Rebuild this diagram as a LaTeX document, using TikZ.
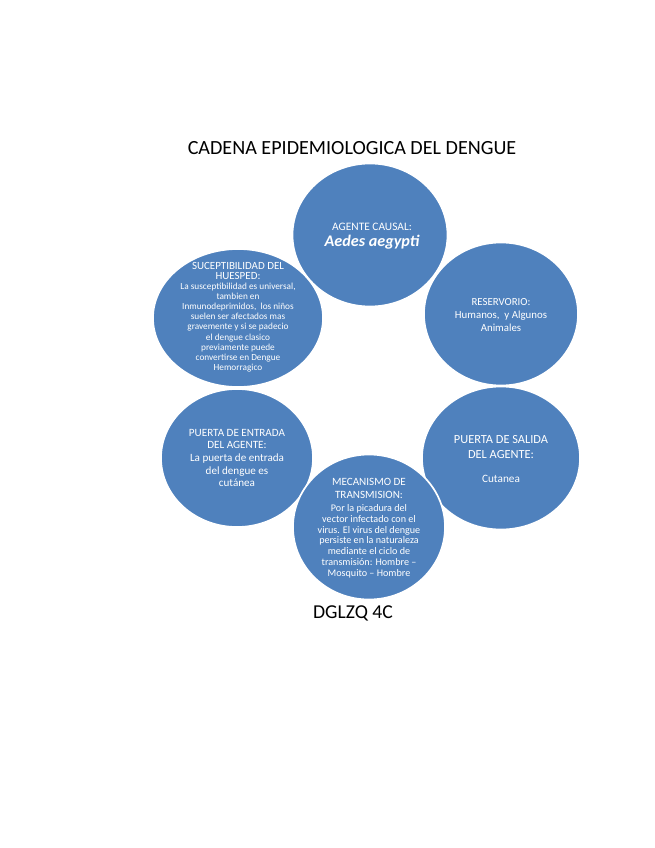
\documentclass[tikz,border=0pt]{standalone}
\usepackage{fontspec}
\setmainfont{Carlito}
\usetikzlibrary{shapes.geometric}
\definecolor{circblue}{HTML}{4F81BD}

\begin{document}
\begin{tikzpicture}[x=0.025cm, y=-0.025cm,
    bubble/.style={ellipse, fill=circblue, draw=white, line width=1.2pt, inner sep=0pt},
    txt/.style={text=white, align=center, inner sep=0pt}]

        \useasboundingbox[fill=white] (0,0) rectangle (655,848);

        \def\headfont{\fontsize{7.8}{8.4}\selectfont}

        \node[font=\fontsize{14.3}{17}\selectfont] (titulo) at (352,148) {CADENA EPIDEMIOLOGICA DEL DENGUE};

        \node[bubble, minimum width=4.25cm, minimum height=3.45cm] (huesped) at (238,318) {};
        \node[bubble, minimum width=3.8cm, minimum height=3.45cm] (entrada) at (237,458) {};
        \node[bubble, minimum width=3.95cm, minimum height=3.575cm] (salida) at (501,458) {};
        \node[bubble, minimum width=3.85cm, minimum height=3.575cm] (reservorio) at (501,314) {};
        \node[bubble, minimum width=3.875cm, minimum height=3.575cm] (agente) at (370,235) {};
        \node[bubble, minimum width=3.8cm, minimum height=3.625cm] (mecanismo) at (369,527) {};

        \node[txt, font=\fontsize{8.1}{11}\selectfont] (agentetxt) at (372,236) {AGENTE CAUSAL:\\
            \fontsize{11.5}{12}\selectfont\bfseries\itshape Aedes aegypti};

        \node[txt, font=\fontsize{7.7}{9.2}\selectfont] (reservoriotxt) at (501,315) {RESERVORIO:\\
            Humanos,\ \ y Algunos\\ Animales};

        \node[txt, font=\fontsize{6.6}{7.2}\selectfont] (huespedtxt) at (238,317) {\headfont SUCEPTIBILIDAD DEL\\
            \headfont HUESPED:\\
            La susceptibilidad es universal,\\ tambien en\\
            Inmunodeprimidos,\ \ los niños\\ suelen ser afectados mas\\
            gravemente y si se padecio\\ el dengue clasico\\ previamente puede\\
            convertirse en Dengue\\ Hemorragico};

        \node[txt, font=\fontsize{7.9}{9}\selectfont] (entradatxt) at (entrada) {PUERTA DE ENTRADA\\
            DEL AGENTE:\\ La puerta de entrada\\ del dengue es\\ cutánea};

        \node[txt, font=\fontsize{8}{10.6}\selectfont] (salidatxt) at (501,459) {\fontsize{8.8}{10.6}\selectfont PUERTA DE SALIDA\\
            \fontsize{8.8}{10.6}\selectfont DEL AGENTE:\\[6pt] Cutanea};

        \node[txt, font=\fontsize{7.2}{7.7}\selectfont] (mecanismotxt) at (369,528) {\fontsize{7.9}{7.7}\selectfont MECANISMO DE\\[1.8pt]
            \fontsize{7.9}{7.7}\selectfont TRANSMISION:\\[1.5pt]
            Por la picadura del\\ vector infectado con el\\
            virus. El virus del dengue\\ persiste en la naturaleza\\
            mediante el ciclo de\\ transmisión: Hombre --\\ Mosquito -- Hombre};

        \node[font=\fontsize{14}{17}\selectfont] (firma) at (353,613) {DGLZQ 4C};

      \end{tikzpicture}
\end{document}
